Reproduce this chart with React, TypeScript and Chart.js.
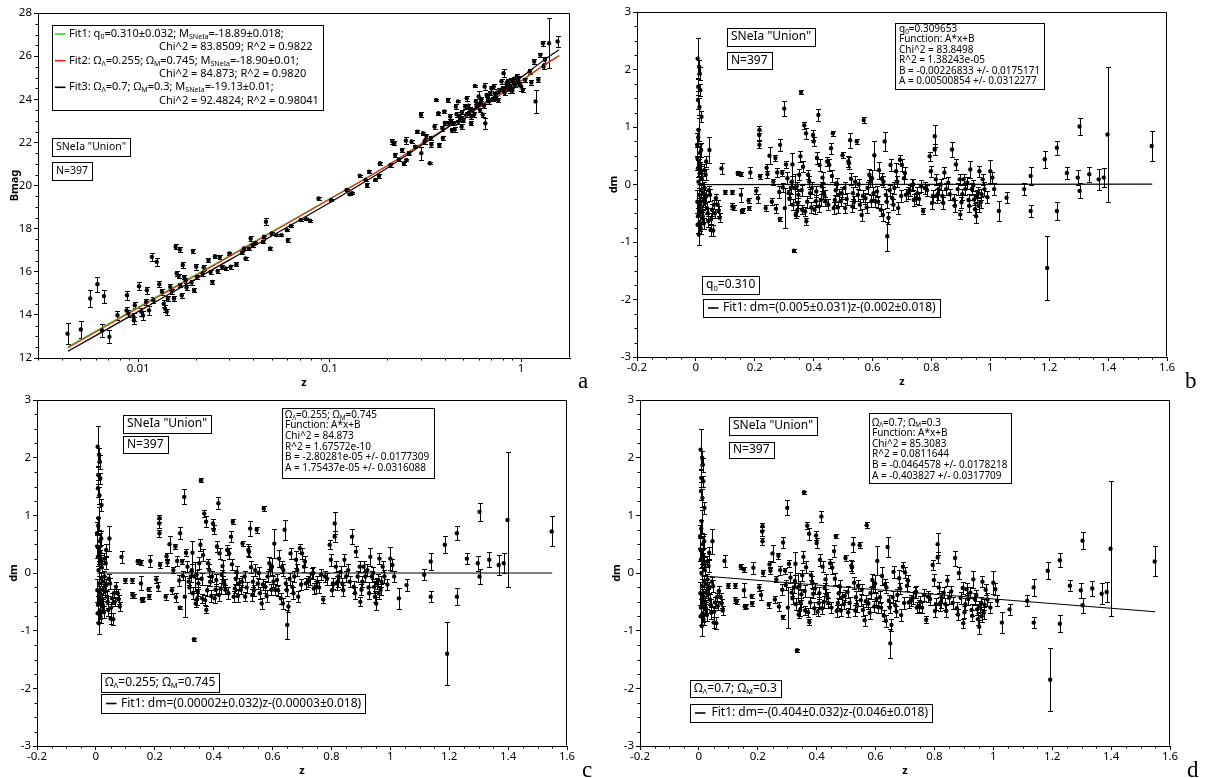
import React, { useEffect, useRef } from 'react';
import { Chart, registerables } from 'chart.js';

Chart.register(...registerables);

const SANS = '"Noto Sans", "DejaVu Sans", sans-serif';
const SERIF = '"Liberation Serif", "DejaVu Serif", serif';
const GREEN = '#1fe01f';
const RED = '#ff1a1a';

// ---------------- Panel a : Bmag vs z (log) ----------------
const zA = [
  0.00428, 0.00502, 0.00562, 0.00613, 0.00648, 0.00663, 0.00708, 0.0078, 0.00875, 0.0087,
  0.0089, 0.00946, 0.0095, 0.0096, 0.0101, 0.0104, 0.0106, 0.0111, 0.0114, 0.0118,
  0.0125, 0.012, 0.0129, 0.0133, 0.0136, 0.0138, 0.0141, 0.0143, 0.0147, 0.0154,
  0.0157, 0.0165, 0.0159, 0.0163, 0.0166, 0.0169, 0.0171, 0.0174, 0.0177, 0.0179,
  0.0193, 0.0196, 0.0201, 0.0203, 0.0217, 0.0233, 0.0239, 0.0244, 0.0252, 0.026,
  0.0267, 0.0274, 0.0286, 0.03, 0.0304, 0.0326, 0.0357, 0.0364, 0.0379, 0.0387,
  0.0396, 0.041, 0.0454, 0.0465, 0.0489, 0.0498, 0.0527, 0.056, 0.0599, 0.0605,
  0.0628, 0.0706, 0.0757, 0.0791, 0.0875, 0.1019, 0.1226, 0.127, 0.131, 0.1437,
  0.154, 0.157, 0.161, 0.173, 0.181, 0.183, 0.208, 0.2125, 0.2175, 0.22,
  0.239, 0.244, 0.25, 0.252, 0.268, 0.287, 0.3, 0.301, 0.307, 0.313,
  0.333, 0.338, 0.353, 0.36, 0.37, 0.374, 0.388, 0.397, 0.415, 0.42,
  0.426, 0.435, 0.445, 0.456, 0.46, 0.468, 0.478, 0.48, 0.489, 0.5,
  0.51, 0.52, 0.53, 0.535, 0.548, 0.55, 0.56, 0.573, 0.58, 0.585,
  0.6, 0.615, 0.62, 0.63, 0.645, 0.65, 0.66, 0.672, 0.68, 0.69,
  0.7, 0.72, 0.74, 0.75, 0.76, 0.79, 0.8, 0.81, 0.83, 0.85,
  0.86, 0.87, 0.89, 0.9, 0.93, 0.95, 0.96, 0.97, 1.0, 1.02,
  1.11, 1.13, 1.17, 1.19, 1.23, 1.26, 1.3, 1.31, 1.33, 1.4,
  1.55, 0.32, 0.34, 0.39, 0.4, 0.43, 0.45, 0.47, 0.49, 0.52,
  0.54, 0.57, 0.59, 0.61, 0.64, 0.67, 0.71, 0.73, 0.77, 0.82,
  0.84, 0.88, 0.92, 0.98, 1.05, 0.23, 0.26, 0.28, 0.011, 0.015,
  0.019, 0.022, 0.035, 0.045,
];
const bmagA = [
  13.13, 13.32, 14.76, 15.42, 13.28, 14.87, 12.98, 13.98, 14.91, 14.2,
  14.06, 13.9, 13.75, 14.45, 15.33, 14.14, 13.97, 15.14, 14.21, 16.69,
  16.46, 14.68, 15.42, 15.07, 14.52, 14.29, 14.14, 14.76, 15.3, 14.76,
  17.16, 17.03, 15.92, 15.8, 15.38, 14.91, 16.31, 15.76, 15.6, 15.27,
  16.97, 15.14, 16.23, 15.76, 15.92, 16.54, 15.99, 15.53, 16.72, 16.04,
  16.69, 16.23, 16.15, 16.85, 16.23, 16.35, 17.08, 16.62, 17.08, 17.54,
  17.23, 17.34, 17.62, 18.32, 17.08, 17.78, 17.7, 17.7, 17.93, 17.47,
  18.12, 18.4, 18.44, 18.37, 19.4, 19.33, 19.79, 19.59, 19.64, 20.46,
  20.26, 20.02, 20.64, 20.26, 20.44, 21.03, 20.95, 22.04, 21.96, 21.42,
  21.65, 21.03, 22.08, 21.18, 22.04, 22.5, 23.28, 21.5, 22.42, 22.04,
  21.03, 22.2, 22.73, 23.97, 23.35, 21.88, 22.65, 23.43, 23.97, 22.9,
  23.2, 22.58, 22.89, 23.66, 23.3, 23.9, 23.2, 23.1, 22.73, 23.04,
  23.66, 24.05, 23.7, 23.35, 22.89, 23.2, 23.5, 24.62, 23.9, 23.66,
  24.13, 23.82, 24.0, 23.28, 24.59, 22.89, 24.2, 23.97, 23.9, 24.28,
  24.5, 24.59, 24.05, 24.3, 23.97, 24.83, 24.5, 25.21, 24.51, 24.83,
  24.7, 24.44, 24.9, 24.4, 24.67, 25.06, 24.8, 24.98, 24.59, 24.44,
  25.29, 24.78, 25.75, 23.9, 24.9, 26.06, 26.6, 25.52, 25.83, 26.6,
  26.68, 22.3, 21.9, 22.2, 22.9, 23.0, 22.6, 22.95, 23.4, 23.3,
  23.55, 23.3, 23.75, 23.5, 23.7, 24.1, 24.0, 24.25, 24.4, 24.3,
  24.75, 24.6, 24.95, 24.7, 24.9, 21.2, 21.5, 21.8, 14.6, 15.1,
  15.5, 16.2, 16.9, 17.4,
];
const errA = [
  0.5, 0.4, 0.4, 0.35, 0.3, 0.3, 0.3, 0.22, 0.22, 0.15,
  0.15, 0.2, 0.15, 0.15, 0.18, 0.2, 0.22, 0.15, 0.22, 0.18,
  0.18, 0.15, 0.15, 0.15, 0.15, 0.15, 0.15, 0.12, 0.12, 0.12,
  0.12, 0.12, 0.12, 0.1, 0.1, 0.12, 0.12, 0.1, 0.1, 0.1,
  0.08, 0.1, 0.15, 0.1, 0.1, 0.08, 0.08, 0.08, 0.08, 0.08,
  0.08, 0.08, 0.08, 0.08, 0.08, 0.1, 0.08, 0.08, 0.08, 0.1,
  0.08, 0.06, 0.06, 0.15, 0.05, 0.06, 0.06, 0.06, 0.06, 0.08,
  0.05, 0.06, 0.05, 0.05, 0.08, 0.05, 0.05, 0.05, 0.05, 0.05,
  0.06, 0.08, 0.06, 0.06, 0.08, 0.08, 0.08, 0.1, 0.1, 0.08,
  0.08, 0.06, 0.15, 0.06, 0.08, 0.08, 0.12, 0.3, 0.06, 0.1,
  0.04, 0.08, 0.1, 0.04, 0.08, 0.08, 0.1, 0.08, 0.08, 0.1,
  0.1, 0.1, 0.1, 0.1, 0.1, 0.05, 0.1, 0.1, 0.1, 0.1,
  0.1, 0.12, 0.1, 0.1, 0.1, 0.1, 0.1, 0.06, 0.1, 0.1,
  0.25, 0.1, 0.1, 0.1, 0.15, 0.25, 0.1, 0.1, 0.1, 0.1,
  0.1, 0.12, 0.1, 0.1, 0.1, 0.1, 0.1, 0.19, 0.1, 0.1,
  0.1, 0.13, 0.1, 0.1, 0.1, 0.12, 0.1, 0.1, 0.2, 0.1,
  0.1, 0.12, 0.12, 0.55, 0.12, 0.1, 0.12, 0.13, 0.15, 1.16,
  0.25, 0.1, 0.1, 0.1, 0.1, 0.1, 0.1, 0.1, 0.1, 0.1,
  0.1, 0.1, 0.1, 0.1, 0.1, 0.1, 0.1, 0.1, 0.1, 0.1,
  0.1, 0.1, 0.1, 0.1, 0.1, 0.08, 0.08, 0.08, 0.15, 0.12,
  0.1, 0.1, 0.08, 0.06,
];
const fitZA = [0.0043, 0.01, 0.03, 0.1, 0.2, 0.3, 0.5, 0.7, 1.0, 1.3, 1.58];
const fit1A = [12.52, 14.36, 16.74, 19.38, 20.93, 21.93, 23.18, 23.98, 24.86, 25.55, 26.04];
const fit2A = [12.48, 14.32, 16.71, 19.36, 20.92, 21.92, 23.17, 23.97, 24.85, 25.54, 26.02];
const fit3A = [12.31, 14.15, 16.55, 19.2, 20.81, 21.85, 23.19, 24.05, 25.01, 25.78, 26.3];
const xTickValsA = [0.01, 0.1, 1];
const xTickLabelsA = ['0.01', '0.1', '1'];
const yTickValsA = [12, 14, 16, 18, 20, 22, 24, 26, 28];
const yTickLabelsA = ['12', '14', '16', '18', '20', '22', '24', '26', '28'];

// ---------------- Panels b, c, d : residuals dm vs z ----------------
const zR = [
  0.006, 0.008, 0.011, 0.013, 0.015, 0.007, 0.019, 0.004, 0.005, 0.007,
  0.009, 0.011, 0.012, 0.007, 0.01, 0.016, 0.021, 0.024, 0.029, 0.033,
  0.035, 0.038, 0.042, 0.046, 0.048, 0.05, 0.059, 0.055, 0.061, 0.068,
  0.074, 0.081, 0.077, 0.009, 0.012, 0.014, 0.017, 0.018, 0.02, 0.022,
  0.026, 0.013, 0.008, 0.015, 0.027, 0.031, 0.044, 0.005,
  0.087, 0.1, 0.124, 0.124, 0.128, 0.142, 0.153, 0.153, 0.156, 0.16,
  0.179, 0.181, 0.185, 0.205, 0.211, 0.215, 0.216, 0.216, 0.218, 0.237,
  0.24, 0.243, 0.25, 0.263, 0.27, 0.276, 0.283, 0.285, 0.286, 0.293,
  0.3, 0.302, 0.306, 0.311, 0.315, 0.322, 0.328, 0.329, 0.333, 0.335,
  0.339, 0.342, 0.346, 0.348, 0.351, 0.355, 0.357, 0.361, 0.364, 0.368,
  0.371, 0.374, 0.375, 0.381, 0.388, 0.394, 0.398, 0.4, 0.403, 0.407,
  0.411, 0.416, 0.42, 0.424, 0.427, 0.433, 0.44, 0.446, 0.453, 0.459,
  0.465, 0.468, 0.472, 0.478, 0.485, 0.492, 0.498, 0.505, 0.507, 0.518,
  0.52, 0.524, 0.531, 0.533, 0.541, 0.546, 0.55, 0.557, 0.563, 0.57,
  0.576, 0.583, 0.589, 0.596, 0.598, 0.606, 0.609, 0.615, 0.622, 0.628,
  0.635, 0.637, 0.641, 0.645, 0.65, 0.654, 0.661, 0.667, 0.674, 0.68,
  0.687, 0.693, 0.7, 0.707, 0.713, 0.72, 0.733, 0.74, 0.746, 0.752,
  0.765, 0.772, 0.778, 0.794, 0.798, 0.805, 0.811, 0.811, 0.815, 0.818,
  0.824, 0.831, 0.837, 0.844, 0.85, 0.857, 0.87, 0.876, 0.883, 0.889,
  0.896, 0.898, 0.902, 0.909, 0.915, 0.922, 0.928, 0.932, 0.937, 0.945,
  0.948, 0.952, 0.954, 0.958, 0.963, 0.967, 0.974, 0.98, 1.0, 1.007,
  1.013, 1.029, 1.055, 1.115, 1.137, 1.137, 1.185, 1.193, 1.226, 1.226,
  1.26, 1.297, 1.303, 1.303, 1.336, 1.368, 1.385, 1.398, 1.548,
  0.258, 0.272, 0.295, 0.318, 0.326, 0.344, 0.359, 0.378, 0.385, 0.392,
  0.409, 0.418, 0.43, 0.437, 0.45, 0.462, 0.475, 0.482, 0.495, 0.512,
  0.527, 0.537, 0.553, 0.567, 0.58, 0.593, 0.603, 0.619, 0.632, 0.648,
  0.658, 0.671, 0.684, 0.697, 0.71, 0.726, 0.738, 0.758, 0.785, 0.802,
  0.821, 0.84, 0.862, 0.88, 0.905, 0.926, 0.942, 0.96, 0.97, 0.99,
  0.006, 0.01, 0.014, 0.018, 0.023, 0.028, 0.036, 0.04, 0.052, 0.064,
];
const errR = [
  0.36, 0.15, 0.12, 0.12, 0.1, 0.15, 0.1, 0.2, 0.2, 0.15,
  0.15, 0.12, 0.12, 0.15, 0.18, 0.1, 0.1, 0.1, 0.1, 0.1,
  0.1, 0.1, 0.1, 0.22, 0.1, 0.1, 0.1, 0.1, 0.08, 0.08,
  0.08, 0.08, 0.08, 0.2, 0.15, 0.15, 0.12, 0.12, 0.1, 0.1,
  0.1, 0.15, 0.15, 0.12, 0.1, 0.1, 0.08, 0.2,
  0.1, 0.04, 0.04, 0.05, 0.04, 0.04, 0.04, 0.12, 0.04, 0.04,
  0.04, 0.04, 0.1, 0.06, 0.08, 0.08, 0.06, 0.06, 0.05, 0.05,
  0.06, 0.06, 0.15, 0.05, 0.05, 0.08, 0.1, 0.03, 0.1, 0.05,
  0.13, 0.35, 0.06, 0.1, 0.06, 0.1, 0.2, 0.1, 0.03, 0.25,
  0.06, 0.08, 0.08, 0.1, 0.1, 0.1, 0.03, 0.08, 0.1, 0.06,
  0.08, 0.1, 0.06, 0.08, 0.08, 0.1, 0.08, 0.08, 0.08, 0.1,
  0.1, 0.1, 0.1, 0.1, 0.08, 0.1, 0.08, 0.08, 0.1, 0.1,
  0.04, 0.1, 0.08, 0.1, 0.1, 0.08, 0.05, 0.1, 0.08, 0.1,
  0.1, 0.13, 0.1, 0.1, 0.1, 0.05, 0.1, 0.1, 0.1, 0.05,
  0.1, 0.1, 0.1, 0.1, 0.15, 0.25, 0.1, 0.1, 0.15, 0.1,
  0.1, 0.1, 0.17, 0.1, 0.25, 0.1, 0.1, 0.1, 0.1, 0.15,
  0.1, 0.08, 0.1, 0.1, 0.1, 0.1, 0.1, 0.1, 0.1, 0.1,
  0.1, 0.06, 0.1, 0.08, 0.1, 0.1, 0.19, 0.1, 0.1, 0.12,
  0.1, 0.1, 0.1, 0.1, 0.1, 0.1, 0.13, 0.1, 0.1, 0.1,
  0.1, 0.08, 0.1, 0.1, 0.1, 0.1, 0.1, 0.15, 0.1, 0.1,
  0.1, 0.12, 0.1, 0.1, 0.1, 0.1, 0.1, 0.12, 0.2, 0.1,
  0.1, 0.18, 0.1, 0.1, 0.15, 0.1, 0.15, 0.55, 0.12, 0.15,
  0.1, 0.13, 0.15, 0.13, 0.13, 0.18, 0.17, 1.17, 0.26,
  0.06, 0.08, 0.08, 0.1, 0.1, 0.1, 0.1, 0.1, 0.1, 0.1,
  0.1, 0.1, 0.1, 0.1, 0.1, 0.1, 0.1, 0.1, 0.1, 0.1,
  0.1, 0.1, 0.1, 0.1, 0.1, 0.1, 0.1, 0.1, 0.1, 0.1,
  0.1, 0.1, 0.1, 0.1, 0.1, 0.1, 0.1, 0.1, 0.1, 0.1,
  0.1, 0.1, 0.1, 0.1, 0.1, 0.1, 0.1, 0.1, 0.1, 0.1,
  0.15, 0.15, 0.12, 0.12, 0.1, 0.1, 0.1, 0.1, 0.1, 0.08,
];
const dmB = [
  2.19, 1.7, 2.05, 1.93, 1.64, 1.47, 1.18, 0.69, 0.46, 0.28,
  0.05, -0.18, -0.41, -0.55, -0.87, -0.76, -0.58, -0.29, -0.06, 0.17,
  0.4, -0.41, -0.64, 0.6, -0.18, -0.79, -0.8, -0.44, -0.35, -0.24,
  -0.35, -0.58, -0.46, 0.95, 1.35, 0.55, 0.2, -0.1, 0.1, -0.45,
  -0.15, -0.65, 0.82, 0.35, -0.68, -0.32, -0.1, -0.3,
  0.28, -0.13, -0.13, -0.38, -0.4, 0.2, 0.18, -0.18, -0.46, -0.45,
  -0.28, -0.41, 0.21, -0.11, -0.24, 0.86, 0.95, 0.69, 0.14, -0.41,
  0.29, 0.18, 0.5, 0.05, 0.46, 0.21, -0.13, -0.6, 0.69, 0.2,
  1.32, -0.41, 0.35, 0.11, -0.15, -0.06, 0.35, -0.35, -1.15, -0.06,
  -0.53, -0.03, -0.32, -0.18, 0.17, 0.49, 1.61, -0.44, 0.31, 1.03,
  -0.47, 0.89, -0.64, 0.17, -0.15, -0.06, 0.86, 0.75, -0.44, -0.29,
  0.46, 1.21, 0.34, -0.27, -0.03, -0.15, -0.29, 0.4, 0.34, 0.63,
  0.89, -0.41, -0.27, 0.02, -0.18, -0.29, 0.51, -0.06, -0.41, 0.4,
  0.37, 0.77, -0.38, -0.15, 0.05, 0.75, -0.18, -0.35, -0.53, 1.12,
  -0.24, -0.06, 0.17, -0.29, 0.11, 0.51, -0.29, -0.12, 0.25, -0.44,
  -0.53, 0.05, 0.75, -0.18, -0.9, -0.58, 0.34, -0.24, -0.06, 0.23,
  -0.41, 0.43, 0.34, 0.11, -0.18, -0.15, -0.01, -0.27, -0.24, -0.15,
  -0.03, -0.46, -0.06, 0.49, 0.23, -0.2, 0.84, 0.61, 0.09, -0.2,
  -0.08, 0.0, -0.2, 0.21, -0.08, 0.03, 0.61, -0.26, 0.35, -0.08,
  0.09, -0.52, -0.31, 0.09, -0.08, 0.03, -0.37, 0.26, -0.08, -0.26,
  -0.43, -0.55, -0.2, -0.14, 0.23, -0.31, 0.09, -0.08, 0.23, 0.12,
  -0.08, -0.46, -0.23, -0.08, 0.15, -0.46, 0.44, -1.45, 0.64, -0.46,
  0.2, 0.12, 1.01, -0.11, 0.18, 0.09, 0.12, 0.87, 0.67,
  -0.3, -0.42, -0.05, -0.25, 0.05, -0.45, -0.1, -0.3, 0.05, -0.4,
  -0.12, -0.38, 0.12, -0.2, -0.35, 0.15, -0.1, -0.4, -0.15, -0.25,
  0.1, -0.3, 0.0, -0.2, -0.4, 0.05, -0.15, -0.3, 0.1, -0.3,
  -0.1, -0.35, 0.05, -0.2, 0.2, -0.1, 0.0, -0.25, -0.1, -0.32,
  -0.17, -0.32, -0.17, -0.37, -0.17, -0.27, -0.02, -0.37, -0.17, -0.22,
  -0.7, 0.3, -0.35, 0.6, -0.55, 0.25, -0.2, -0.5, -0.6, -0.5,
];
const dmC = [
  2.19, 1.7, 2.05, 1.93, 1.64, 1.47, 1.18, 0.69, 0.46, 0.28,
  0.05, -0.18, -0.41, -0.55, -0.87, -0.76, -0.58, -0.29, -0.06, 0.17,
  0.4, -0.41, -0.64, 0.6, -0.18, -0.79, -0.8, -0.44, -0.35, -0.24,
  -0.35, -0.58, -0.46, 0.95, 1.35, 0.55, 0.2, -0.1, 0.1, -0.45,
  -0.15, -0.65, 0.82, 0.35, -0.68, -0.32, -0.1, -0.3,
  0.28, -0.13, -0.13, -0.38, -0.4, 0.2, 0.18, -0.18, -0.46, -0.45,
  -0.28, -0.41, 0.21, -0.11, -0.24, 0.86, 0.95, 0.69, 0.14, -0.41,
  0.29, 0.18, 0.5, 0.05, 0.46, 0.21, -0.13, -0.6, 0.69, 0.2,
  1.32, -0.41, 0.35, 0.11, -0.15, -0.06, 0.35, -0.35, -1.15, -0.06,
  -0.53, -0.03, -0.32, -0.18, 0.17, 0.49, 1.61, -0.44, 0.31, 1.03,
  -0.47, 0.89, -0.64, 0.17, -0.15, -0.06, 0.86, 0.75, -0.44, -0.29,
  0.46, 1.21, 0.34, -0.27, -0.03, -0.15, -0.29, 0.4, 0.34, 0.63,
  0.89, -0.41, -0.27, 0.02, -0.18, -0.29, 0.51, -0.06, -0.41, 0.4,
  0.37, 0.77, -0.38, -0.15, 0.05, 0.75, -0.18, -0.35, -0.53, 1.12,
  -0.24, -0.06, 0.17, -0.29, 0.11, 0.51, -0.29, -0.12, 0.25, -0.44,
  -0.53, 0.05, 0.75, -0.18, -0.9, -0.58, 0.34, -0.24, -0.06, 0.23,
  -0.41, 0.43, 0.34, 0.11, -0.18, -0.15, -0.01, -0.27, -0.24, -0.15,
  -0.03, -0.46, -0.06, 0.49, 0.23, -0.18, 0.86, 0.63, 0.11, -0.18,
  -0.06, 0.02, -0.18, 0.23, -0.06, 0.05, 0.63, -0.24, 0.37, -0.06,
  0.11, -0.5, -0.29, 0.11, -0.06, 0.05, -0.35, 0.28, -0.06, -0.24,
  -0.41, -0.53, -0.18, -0.12, 0.25, -0.29, 0.11, -0.06, 0.25, 0.14,
  -0.06, -0.44, -0.21, -0.03, 0.2, -0.41, 0.49, -1.4, 0.69, -0.41,
  0.25, 0.17, 1.06, -0.06, 0.23, 0.14, 0.17, 0.92, 0.72,
  -0.3, -0.42, -0.05, -0.25, 0.05, -0.45, -0.1, -0.3, 0.05, -0.4,
  -0.12, -0.38, 0.12, -0.2, -0.35, 0.15, -0.1, -0.4, -0.15, -0.25,
  0.1, -0.3, 0.0, -0.2, -0.4, 0.05, -0.15, -0.3, 0.1, -0.3,
  -0.1, -0.35, 0.05, -0.2, 0.2, -0.1, 0.0, -0.25, -0.1, -0.3,
  -0.15, -0.3, -0.15, -0.35, -0.15, -0.25, 0.0, -0.35, -0.15, -0.2,
  -0.7, 0.3, -0.35, 0.6, -0.55, 0.25, -0.2, -0.5, -0.6, -0.5,
];
const dmD = [
  2.14, 1.65, 2.0, 1.88, 1.59, 1.42, 1.13, 0.64, 0.41, 0.23,
  0.0, -0.23, -0.46, -0.6, -0.92, -0.81, -0.63, -0.34, -0.11, 0.12,
  0.35, -0.46, -0.69, 0.55, -0.23, -0.86, -0.87, -0.51, -0.42, -0.31,
  -0.42, -0.65, -0.53, 0.9, 1.3, 0.5, 0.15, -0.15, 0.05, -0.5,
  -0.2, -0.7, 0.77, 0.3, -0.73, -0.37, -0.15, -0.35,
  0.21, -0.22, -0.22, -0.47, -0.49, 0.11, 0.06, -0.3, -0.58, -0.57,
  -0.4, -0.53, 0.09, -0.25, -0.38, 0.72, 0.81, 0.55, 0.0, -0.55,
  0.15, 0.04, 0.34, -0.11, 0.3, 0.05, -0.29, -0.76, 0.53, 0.04,
  1.13, -0.6, 0.16, -0.08, -0.34, -0.25, 0.16, -0.54, -1.34, -0.25,
  -0.72, -0.22, -0.51, -0.37, -0.04, 0.28, 1.4, -0.65, 0.1, 0.82,
  -0.68, 0.68, -0.85, -0.04, -0.36, -0.27, 0.65, 0.52, -0.67, -0.52,
  0.23, 0.98, 0.11, -0.5, -0.26, -0.38, -0.52, 0.17, 0.09, 0.38,
  0.64, -0.66, -0.52, -0.23, -0.43, -0.54, 0.26, -0.33, -0.68, 0.13,
  0.1, 0.5, -0.65, -0.42, -0.22, 0.48, -0.47, -0.64, -0.82, 0.83,
  -0.53, -0.35, -0.12, -0.58, -0.18, 0.21, -0.59, -0.42, -0.05, -0.74,
  -0.83, -0.25, 0.45, -0.48, -1.22, -0.9, 0.02, -0.56, -0.38, -0.09,
  -0.73, 0.11, 0.01, -0.22, -0.51, -0.48, -0.34, -0.6, -0.57, -0.5,
  -0.38, -0.81, -0.41, 0.14, -0.12, -0.54, 0.5, 0.27, -0.25, -0.54,
  -0.42, -0.34, -0.54, -0.13, -0.43, -0.32, 0.26, -0.61, 0.0, -0.43,
  -0.26, -0.87, -0.68, -0.28, -0.45, -0.34, -0.74, -0.11, -0.45, -0.63,
  -0.8, -0.93, -0.58, -0.52, -0.15, -0.69, -0.29, -0.46, -0.17, -0.28,
  -0.48, -0.86, -0.63, -0.48, -0.25, -0.86, 0.04, -1.85, 0.22, -0.88,
  -0.22, -0.3, 0.56, -0.56, -0.27, -0.36, -0.33, 0.42, 0.2,
  -0.46, -0.58, -0.21, -0.44, -0.14, -0.64, -0.31, -0.51, -0.16, -0.61,
  -0.35, -0.61, -0.11, -0.43, -0.6, -0.1, -0.35, -0.65, -0.4, -0.52,
  -0.17, -0.57, -0.29, -0.49, -0.69, -0.24, -0.45, -0.6, -0.2, -0.6,
  -0.42, -0.67, -0.27, -0.52, -0.13, -0.43, -0.33, -0.6, -0.45, -0.66,
  -0.51, -0.66, -0.52, -0.72, -0.54, -0.64, -0.39, -0.75, -0.55, -0.6,
  -0.75, 0.25, -0.4, 0.55, -0.6, 0.2, -0.25, -0.55, -0.67, -0.57,
];
const fitZR = [0.005, 1.55];
const fitB = [-0.002, 0.006];
const fitC = [0.0, 0.0];
const fitD = [-0.048, -0.672];
const xTickValsR = [-0.2, 0, 0.2, 0.4, 0.6, 0.8, 1, 1.2, 1.4, 1.6];
const xTickLabelsR = ['-0.2', '0', '0.2', '0.4', '0.6', '0.8', '1', '1.2', '1.4', '1.6'];
const yTickValsR = [-3, -2, -1, 0, 1, 2, 3];
const yTickLabelsR = ['-3', '-2', '-1', '0', '1', '2', '3'];

// ---------------- helpers ----------------
function linMinor(min: number, max: number, step: number, major: number[]) {
  const out: number[] = [];
  const n = Math.round((max - min) / step);
  for (let i = 0; i <= n; i++) {
    const v = +(min + i * step).toFixed(6);
    if (!major.some((m) => Math.abs(m - v) < 1e-9)) out.push(v);
  }
  return out;
}
function logMinor(min: number, max: number) {
  const out: number[] = [];
  for (let e = -4; e <= 1; e++)
    for (let k = 2; k <= 9; k++) {
      const v = k * Math.pow(10, e);
      if (v >= min && v <= max) out.push(v);
    }
  return out;
}

type Seg = [string, boolean];
function segs(text: string): Seg[] {
  const out: Seg[] = [];
  const re = /_\{([^}]*)\}/g;
  let last = 0;
  let m: RegExpExecArray | null;
  while ((m = re.exec(text))) {
    if (m.index > last) out.push([text.slice(last, m.index), false]);
    out.push([m[1], true]);
    last = re.lastIndex;
  }
  if (last < text.length) out.push([text.slice(last), false]);
  return out;
}
function richWidth(ctx: CanvasRenderingContext2D, text: string, size: number) {
  let w = 0;
  for (const [t, sub] of segs(text)) {
    ctx.font = `${sub ? size * 0.64 : size}px ${SANS}`;
    w += ctx.measureText(t).width;
  }
  return w;
}
function drawRich(ctx: CanvasRenderingContext2D, text: string, x: number, y: number, size: number) {
  let cx = x;
  ctx.fillStyle = '#000';
  ctx.textBaseline = 'middle';
  ctx.textAlign = 'left';
  for (const [t, sub] of segs(text)) {
    const fs = sub ? size * 0.64 : size;
    ctx.font = `${fs}px ${SANS}`;
    ctx.fillText(t, cx, sub ? y + size * 0.28 : y);
    cx += ctx.measureText(t).width;
  }
}

interface TLine { t: string; x: number; y: number; sample?: string; sx?: number }
interface TBox { x: number; y: number; w?: number; h: number; size: number; lines: TLine[] }
interface PanelSpec {
  L: number; T: number; R: number; B: number;
  xLog: boolean; xMin: number; xMax: number; xTicks: number[]; xLabels: string[]; xMinor: number[];
  yMin: number; yMax: number; yTicks: number[]; yLabels: string[]; yMinor: number[];
  yTitle: string;
  px: number[]; py: number[]; pe: number[];
  lines: { x: number[]; y: number[]; color: string; width: number }[];
  boxes: TBox[];
  letter: { t: string; x: number; y: number };
}

const PAD_L = 38, PAD_T = 13, PAD_R = 40, PAD_B = 32;

function decor(s: PanelSpec, ox: number, oy: number) {
  return {
    id: 'decor',
    beforeDatasetsDraw(chart: any) {
      const { ctx, chartArea: ca, scales } = chart;
      const xs = scales.x, ys = scales.y;
      ctx.save();
      ctx.beginPath();
      ctx.rect(ca.left, ca.top, ca.right - ca.left, ca.bottom - ca.top);
      ctx.clip();
      ctx.strokeStyle = '#000';
      ctx.lineWidth = 1;
      ctx.beginPath();
      for (let i = 0; i < s.px.length; i++) {
        const px = Math.round(xs.getPixelForValue(s.px[i])) + 0.5;
        const y1 = Math.round(ys.getPixelForValue(s.py[i] - s.pe[i])) + 0.5;
        const y2 = Math.round(ys.getPixelForValue(s.py[i] + s.pe[i])) + 0.5;
        ctx.moveTo(px, y1); ctx.lineTo(px, y2);
        ctx.moveTo(px - 2.5, y1); ctx.lineTo(px + 2.5, y1);
        ctx.moveTo(px - 2.5, y2); ctx.lineTo(px + 2.5, y2);
      }
      ctx.stroke();
      ctx.restore();
    },
    afterDraw(chart: any) {
      const { ctx, chartArea: ca, scales } = chart;
      const xs = scales.x, ys = scales.y;
      ctx.save();
      ctx.strokeStyle = '#000';
      ctx.lineWidth = 1;
      const l = Math.round(ca.left) + 0.5, r = Math.round(ca.right) - 0.5;
      const t = Math.round(ca.top) + 0.5, b = Math.round(ca.bottom) - 0.5;
      ctx.beginPath();
      ctx.moveTo(l, t); ctx.lineTo(r, t); ctx.lineTo(r, b);
      for (const v of s.xMinor) {
        const px = Math.round(xs.getPixelForValue(v)) + 0.5;
        ctx.moveTo(px, ca.bottom); ctx.lineTo(px, ca.bottom + 2.5);
      }
      for (const v of s.yMinor) {
        const py = Math.round(ys.getPixelForValue(v)) + 0.5;
        ctx.moveTo(ca.left - 2.5, py); ctx.lineTo(ca.left, py);
      }
      ctx.stroke();
      for (const bx of s.boxes) {
        let right = bx.x + (bx.w ?? 0);
        for (const ln of bx.lines) right = Math.max(right, ln.x + richWidth(ctx, ln.t, bx.size) + 4);
        const x = Math.round(bx.x - ox) + 0.5, y = Math.round(bx.y - oy) + 0.5;
        const w = Math.round(right - bx.x), h = Math.round(bx.h);
        ctx.fillStyle = '#fff';
        ctx.fillRect(x, y, w, h);
        ctx.strokeStyle = '#000';
        ctx.lineWidth = 1;
        ctx.strokeRect(x, y, w, h);
        for (const ln of bx.lines) {
          if (ln.sample) {
            ctx.strokeStyle = ln.sample;
            ctx.lineWidth = 1.6;
            ctx.beginPath();
            ctx.moveTo((ln.sx ?? 0) - ox, ln.y - oy);
            ctx.lineTo((ln.sx ?? 0) + 10.5 - ox, ln.y - oy);
            ctx.stroke();
          }
          drawRich(ctx, ln.t, ln.x - ox, ln.y - oy, bx.size);
        }
      }
      ctx.font = `23px ${SERIF}`;
      ctx.fillStyle = '#000';
      ctx.textBaseline = 'alphabetic';
      ctx.textAlign = 'left';
      ctx.fillText(s.letter.t, s.letter.x - ox, s.letter.y - oy);
      ctx.restore();
    },
  };
}

function buildConfig(s: PanelSpec, ox: number, oy: number): any {
  const pts = s.px.map((x, i) => ({ x, y: s.py[i] }));
  const datasets: any[] = [
    { data: pts, showLine: false, pointRadius: 2.2, pointBackgroundColor: '#000', pointBorderWidth: 0, pointHoverRadius: 0 },
    ...s.lines.map((ln) => ({
      data: ln.x.map((x, i) => ({ x, y: ln.y[i] })),
      showLine: true, borderColor: ln.color, borderWidth: ln.width, pointRadius: 0,
      cubicInterpolationMode: 'monotone', fill: false,
    })),
  ];
  const zero = (sc: any) => { sc.paddingLeft = 0; sc.paddingRight = 0; sc.paddingTop = 0; sc.paddingBottom = 0; };
  const tickFont = { family: SANS, size: 11.5 };
  const titleFont = { family: SANS, size: 11, weight: 'bold' };
  return {
    type: 'scatter',
    data: { datasets },
    options: {
      animation: false, responsive: false, maintainAspectRatio: false, devicePixelRatio: 1, events: [],
      layout: { padding: { left: 0, top: PAD_T, right: PAD_R, bottom: 0 } },
      plugins: { legend: { display: false }, tooltip: { enabled: false }, title: { display: false } },
      scales: {
        x: {
          type: s.xLog ? 'logarithmic' : 'linear', position: 'bottom', bounds: 'data',
          min: s.xMin, max: s.xMax,
          afterBuildTicks: (sc: any) => { sc.ticks = s.xTicks.map((v) => ({ value: v })); },
          afterFit: (sc: any) => { sc.height = PAD_B; zero(sc); },
          ticks: { callback: (_v: any, i: number) => s.xLabels[i], font: tickFont, color: '#000', padding: 0, maxRotation: 0, minRotation: 0, autoSkip: false },
          grid: { display: true, drawOnChartArea: false, drawTicks: true, tickLength: 4, color: '#000' },
          border: { display: true, color: '#000', width: 1 },
          title: { display: true, text: 'z', font: titleFont, color: '#000', padding: { top: 0, bottom: 1 } },
        },
        y: {
          type: 'linear', position: 'left', bounds: 'data', min: s.yMin, max: s.yMax,
          afterBuildTicks: (sc: any) => { sc.ticks = s.yTicks.map((v) => ({ value: v })); },
          afterFit: (sc: any) => { sc.width = PAD_L; zero(sc); },
          ticks: { callback: (_v: any, i: number) => s.yLabels[i], font: tickFont, color: '#000', padding: 2, autoSkip: false },
          grid: { display: true, drawOnChartArea: false, drawTicks: true, tickLength: 4, color: '#000' },
          border: { display: true, color: '#000', width: 1 },
          title: { display: true, text: s.yTitle, font: titleFont, color: '#000', padding: { top: 8, bottom: 0 } },
        },
      },
    },
    plugins: [decor(s, ox, oy)],
  };
}

function infoLines(texts: string[], x: number, y0: number, dy: number): TLine[] {
  return texts.map((t, i) => ({ t, x, y: y0 + i * dy }));
}

const resX = { xLog: false, xMin: -0.2, xMax: 1.6, xTicks: xTickValsR, xLabels: xTickLabelsR, xMinor: linMinor(-0.2, 1.6, 0.05, xTickValsR) };
const resY = { yMin: -3, yMax: 3, yTicks: yTickValsR, yLabels: yTickLabelsR, yMinor: linMinor(-3, 3, 0.25, yTickValsR), yTitle: 'dm' };

const panelA: PanelSpec = {
  L: 38, T: 13, R: 570, B: 358,
  xLog: true, xMin: 0.003, xMax: 1.8, xTicks: xTickValsA, xLabels: xTickLabelsA, xMinor: logMinor(0.003, 1.8),
  yMin: 12, yMax: 28, yTicks: yTickValsA, yLabels: yTickLabelsA, yMinor: linMinor(12, 28, 0.5, yTickValsA), yTitle: 'Bmag',
  px: zA, py: bmagA, pe: errA,
  lines: [
    { x: fitZA, y: fit3A, color: '#000', width: 1.2 },
    { x: fitZA, y: fit2A, color: RED, width: 1.2 },
    { x: fitZA, y: fit1A, color: GREEN, width: 1.2 },
  ],
  boxes: [
    { x: 52, y: 25, w: 270, h: 85, size: 11, lines: [
      { t: 'Fit1: q_{0}=0.310±0.032; M_{SNeIa}=-18.89±0.018;', x: 69, y: 34, sample: GREEN, sx: 55 },
      { t: 'Chi^2 = 83.8509; R^2 = 0.9822', x: 159, y: 47.3 },
      { t: 'Fit2: Ω_{Λ}=0.255; Ω_{M}=0.745; M_{SNeIa}=-18.90±0.01;', x: 69, y: 60.7, sample: RED, sx: 55 },
      { t: 'Chi^2 = 84.873; R^2 = 0.9820', x: 159, y: 74 },
      { t: 'Fit3: Ω_{Λ}=0.7; Ω_{M}=0.3; M_{SNeIa}=-19.13±0.01;', x: 69, y: 87.3, sample: '#000', sx: 55 },
      { t: 'Chi^2 = 92.4824; R^2 = 0.98041', x: 159, y: 100.7 },
    ] },
    { x: 52, y: 138, h: 18, size: 10.5, lines: [{ t: 'SNeIa "Union"', x: 56, y: 147 }] },
    { x: 52, y: 162, h: 18, size: 10.5, lines: [{ t: 'N=397', x: 56, y: 171 }] },
  ],
  letter: { t: 'a', x: 578, y: 388 },
};

const panelB: PanelSpec = {
  L: 637, T: 12, R: 1167, B: 357, ...resX, ...resY,
  px: zR, py: dmB, pe: errR,
  lines: [{ x: fitZR, y: fitB, color: '#000', width: 1.2 }],
  boxes: [
    { x: 727, y: 28, h: 18, size: 12, lines: [{ t: 'SNeIa "Union"', x: 731, y: 37 }] },
    { x: 727, y: 52, h: 17, size: 12, lines: [{ t: 'N=397', x: 731, y: 60.5 }] },
    { x: 895, y: 22.5, w: 142, h: 66, size: 10, lines: infoLines([
      'q_{0}=0.309653', 'Function: A*x+B', 'Chi^2 = 83.8498', 'R^2 = 1.38243e-05',
      'B = -0.00226833 +/- 0.0175171', 'A = 0.00500854 +/- 0.0312277'], 899, 29, 10.5) },
    { x: 702, y: 276, h: 18, size: 12, lines: [{ t: 'q_{0}=0.310', x: 706, y: 285 }] },
    { x: 703, y: 299, h: 17.5, size: 12, lines: [{ t: 'Fit1: dm=(0.005±0.031)z-(0.002±0.018)', x: 723, y: 308, sample: '#000', sx: 708 }] },
  ],
  letter: { t: 'b', x: 1185, y: 388 },
};

const panelC: PanelSpec = {
  L: 37, T: 400, R: 567, B: 746, ...resX, ...resY,
  px: zR, py: dmC, pe: errR,
  lines: [{ x: fitZR, y: fitC, color: '#000', width: 1.2 }],
  boxes: [
    { x: 123, y: 415, h: 17.5, size: 12, lines: [{ t: 'SNeIa "Union"', x: 127, y: 424 }] },
    { x: 123, y: 436, h: 17, size: 12, lines: [{ t: 'N=397', x: 127, y: 444.5 }] },
    { x: 282, y: 408.3, w: 152, h: 70, size: 10, lines: infoLines([
      'Ω_{Λ}=0.255; Ω_{M}=0.745', 'Function: A*x+B', 'Chi^2 = 84.873', 'R^2 = 1.67572e-10',
      'B = -2.80281e-05 +/- 0.0177309', 'A = 1.75437e-05 +/- 0.0316088'], 285, 415, 10.65) },
    { x: 101, y: 673, h: 19, size: 12, lines: [{ t: 'Ω_{Λ}=0.255; Ω_{M}=0.745', x: 105, y: 682.5 }] },
    { x: 101, y: 694, h: 19, size: 12, lines: [{ t: 'Fit1: dm=(0.00002±0.032)z-(0.00003±0.018)', x: 121, y: 703.5, sample: '#000', sx: 106 }] },
  ],
  letter: { t: 'c', x: 582, y: 777 },
};

const panelD: PanelSpec = {
  L: 640, T: 400, R: 1170, B: 746, ...resX, ...resY,
  px: zR, py: dmD, pe: errR,
  lines: [{ x: fitZR, y: fitD, color: '#000', width: 1.2 }],
  boxes: [
    { x: 729, y: 417, h: 18, size: 12, lines: [{ t: 'SNeIa "Union"', x: 733, y: 426 }] },
    { x: 729, y: 442, h: 16, size: 12, lines: [{ t: 'N=397', x: 733, y: 450 }] },
    { x: 869, y: 413.3, w: 141.5, h: 70, size: 10, lines: infoLines([
      'Ω_{Λ}=0.7; Ω_{M}=0.3', 'Function: A*x+B', 'Chi^2 = 85.3083', 'R^2 = 0.0811644',
      'B = -0.0464578 +/- 0.0178218', 'A = -0.403827 +/- 0.0317709'], 872, 422.7, 10.65) },
    { x: 690, y: 680, h: 17, size: 12, lines: [{ t: 'Ω_{Λ}=0.7; Ω_{M}=0.3', x: 694, y: 688.5 }] },
    { x: 690, y: 704, h: 18, size: 12, lines: [{ t: 'Fit1: dm=-(0.404±0.032)z-(0.046±0.018)', x: 711.5, y: 713, sample: '#000', sx: 695 }] },
  ],
  letter: { t: 'd', x: 1187, y: 777 },
};

const PANELS = [panelA, panelB, panelC, panelD];

function Panel({ spec }: { spec: PanelSpec }) {
  const ref = useRef<HTMLCanvasElement | null>(null);
  const left = spec.L - PAD_L;
  const top = spec.T - PAD_T;
  const width = spec.R - spec.L + PAD_L + PAD_R;
  const height = spec.B - spec.T + PAD_T + PAD_B;
  useEffect(() => {
    if (!ref.current) return;
    const chart = new Chart(ref.current, buildConfig(spec, left, top));
    return () => chart.destroy();
  }, [spec]);
  return (
    <canvas
      ref={ref}
      width={width}
      height={height}
      style={{ position: 'absolute', left, top, width, height, display: 'block' }}
    />
  );
}

export default function App() {
  return (
    <div style={{ position: 'absolute', left: 0, top: 0, width: 1205, height: 778, background: '#fff', overflow: 'hidden' }}>
      {PANELS.map((p, i) => (
        <Panel key={i} spec={p} />
      ))}
    </div>
  );
}
